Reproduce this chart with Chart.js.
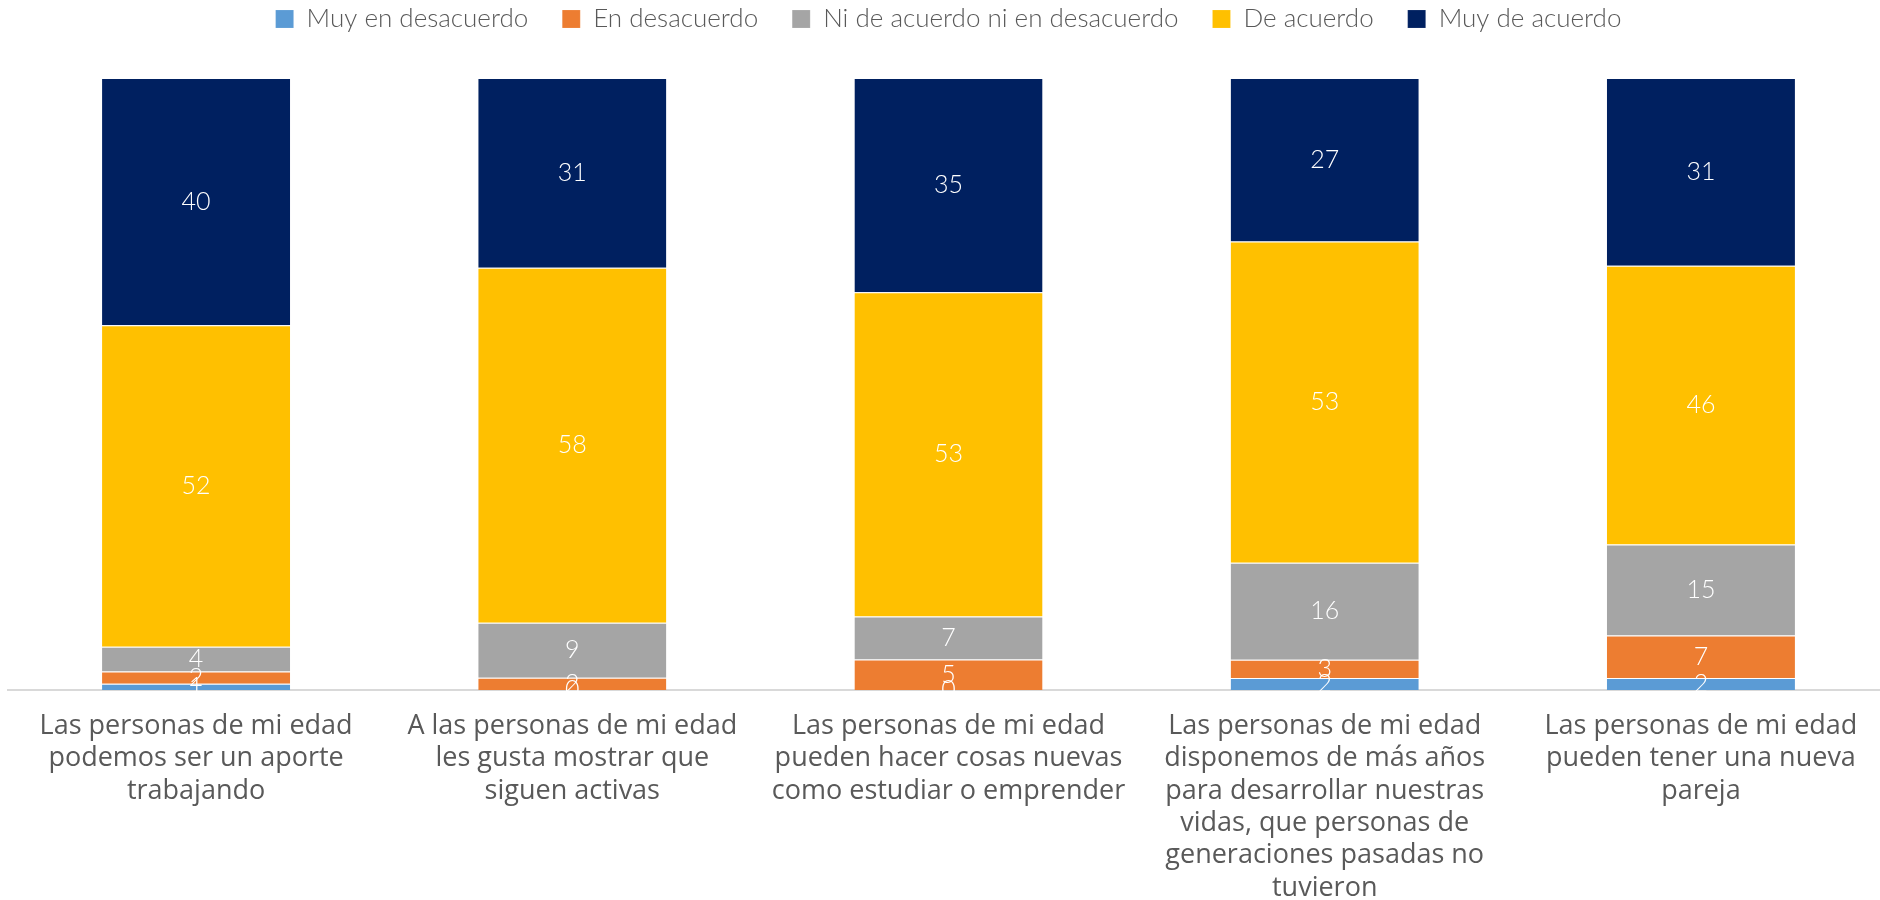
<!DOCTYPE html>
<html>
<head>
<meta charset="utf-8">
<script src="https://cdn.jsdelivr.net/npm/chart.js@4/dist/chart.umd.min.js"></script>
<style>
  html, body { margin: 0; padding: 0; background: #fff; overflow: hidden; }
  #wrap { width: 1890px; height: 900px; }
</style>
</head>
<body>
<div id="wrap"><canvas id="stacked-chart" width="1890" height="900"></canvas></div>
<script>
// categorias (eje x)
const categorias = [
    ["Las personas de mi edad", "podemos ser un aporte", "trabajando"],
    ["A las personas de mi edad", "les gusta mostrar que", "siguen activas"],
    ["Las personas de mi edad", "pueden hacer cosas nuevas", "como estudiar o emprender"],
    ["Las personas de mi edad", "disponemos de más años", "para desarrollar nuestras", "vidas, que personas de", "generaciones pasadas no", "tuvieron"],
    ["Las personas de mi edad", "pueden tener una nueva", "pareja"]
];

// valores (%)
const muyEnDesacuerdo = [1, 0, 0, 2, 2];
const enDesacuerdo    = [2, 2, 5, 3, 7];
const niNi            = [4, 9, 7, 16, 15];
const deAcuerdo       = [52, 58, 53, 53, 46];
const muyDeAcuerdo    = [40, 31, 35, 27, 31];

const series = [
    { label: "Muy en desacuerdo", values: muyEnDesacuerdo, color: "#5B9BD5" },
    { label: "En desacuerdo", values: enDesacuerdo, color: "#ED7D31" },
    { label: "Ni de acuerdo ni en desacuerdo", values: niNi, color: "#A5A5A5" },
    { label: "De acuerdo", values: deAcuerdo, color: "#FFC000" },
    { label: "Muy de acuerdo", values: muyDeAcuerdo, color: "#002060" }
];

// columnas 100% apiladas
const totales = categorias.map((c, i) => series.reduce((s, d) => s + d.values[i], 0));

// etiquetas blancas centradas en cada segmento
const etiquetas = {
    id: 'etiquetas',
    afterDatasetsDraw(chart) {
        const ctx = chart.ctx;
        ctx.save();
        ctx.fillStyle = '#ffffff';
        ctx.font = '300 25px Lato';
        ctx.textAlign = 'center';
        ctx.textBaseline = 'middle';
        chart.data.datasets.forEach((ds, di) => {
            chart.getDatasetMeta(di).data.forEach((bar, i) => {
                ctx.fillText(String(ds.raw[i]), bar.x, (bar.y + bar.base) / 2);
            });
        });
        ctx.restore();
    }
};

// espacio extra debajo de la leyenda
const espacioLeyenda = {
    id: 'espacioLeyenda',
    beforeInit(chart) {
        const fitOrig = chart.legend.fit;
        chart.legend.fit = function () {
            fitOrig.call(this);
            this.height += 36;
        };
    }
};

new Chart(document.getElementById("stacked-chart"), {
    type: 'bar',
    data: {
        labels: categorias,
        datasets: series.map(s => ({
            label: s.label,
            raw: s.values,
            data: s.values.map((v, i) => v / totales[i] * 100),
            backgroundColor: s.color,
            borderColor: 'rgba(255,255,255,0.55)',
            borderWidth: { top: 1, left: 0, right: 0, bottom: 0 },
            categoryPercentage: 1,
            barPercentage: 0.5
        }))
    },
    options: {
        responsive: false,
        animation: false,
        layout: { padding: { left: 8, right: 1, top: -28, bottom: 0 } },
        plugins: {
            legend: {
                position: 'top',
                labels: {
                    boxWidth: 18,
                    boxHeight: 18,
                    padding: 34,
                    color: '#595959',
                    font: { family: 'Lato', size: 26, weight: 300 }
                }
            },
            tooltip: { enabled: false }
        },
        scales: {
            x: {
                stacked: true,
                grid: { display: false, drawTicks: false },
                border: { display: true, color: '#d9d9d9', width: 2 },
                ticks: {
                    color: '#595959',
                    padding: 20,
                    maxRotation: 0,
                    autoSkip: false,
                    font: { family: 'Open Sans', size: 27, lineHeight: 1.2 }
                },
                afterFit(scale) { scale.height = 210; }
            },
            y: {
                stacked: true,
                display: false,
                min: 0,
                max: 100
            }
        }
    },
    plugins: [etiquetas, espacioLeyenda]
});
</script>
</body>
</html>
